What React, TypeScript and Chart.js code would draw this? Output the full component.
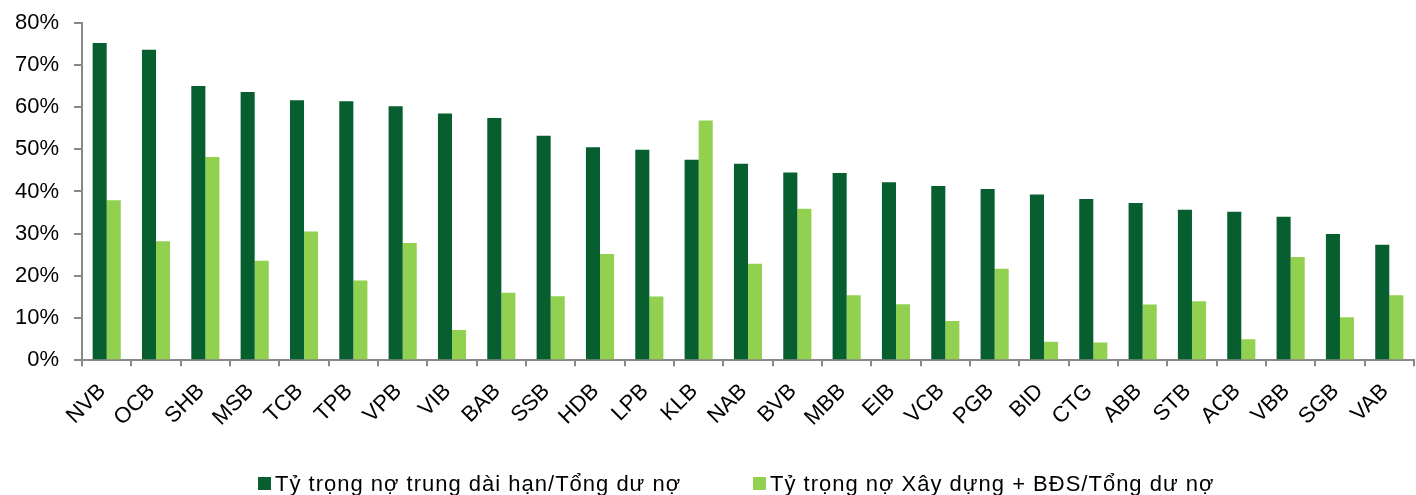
import React, { useEffect, useRef } from "react";
import { Chart, registerables } from "chart.js";

Chart.register(...registerables);

const banks = ["NVB","OCB","SHB","MSB","TCB","TPB","VPB","VIB","BAB","SSB","HDB","LPB","KLB","NAB","BVB","MBB","EIB","VCB","PGB","BID","CTG","ABB","STB","ACB","VBB","SGB","VAB"];
const longTermShare = [75.2,73.6,65.0,63.6,61.6,61.4,60.2,58.5,57.4,53.2,50.5,49.9,47.5,46.6,44.5,44.4,42.2,41.3,40.6,39.3,38.2,37.3,35.7,35.2,34.0,29.9,27.4];
const realEstateShare = [37.9,28.2,48.2,23.6,30.5,18.9,27.8,7.2,16.0,15.2,25.2,15.1,56.8,22.9,35.9,15.4,13.3,9.3,21.7,4.4,4.2,13.2,14.0,5.0,24.5,10.2,15.4];
const seriesNames = ["Tỷ trọng nợ trung dài hạn/Tổng dư nợ", "Tỷ trọng nợ Xây dựng + BĐS/Tổng dư nợ"];
const seriesColors = ["#075E2F", "#92D050"];
const yTicksMax = 80;
const yTickStep = 10;

const FONT = "'Liberation Sans', Arial, sans-serif";

export default function App() {
  const ref = useRef<HTMLCanvasElement | null>(null);
  useEffect(() => {
    if (!ref.current) return;
    const chart = new Chart(ref.current, {
      type: "bar",
      data: {
        labels: banks,
        datasets: [
          { label: seriesNames[0], data: longTermShare, backgroundColor: seriesColors[0], categoryPercentage: 0.57, barPercentage: 1.0 },
          { label: seriesNames[1], data: realEstateShare, backgroundColor: seriesColors[1], categoryPercentage: 0.57, barPercentage: 1.0 },
        ],
      },
      options: {
        animation: false,
        responsive: false,
        maintainAspectRatio: false,
        layout: { padding: { top: 0, left: 0, right: 2, bottom: 56 } },
        plugins: { legend: { display: false }, tooltip: { enabled: false } },
        scales: {
          x: {
            grid: { drawOnChartArea: false, drawTicks: true, tickLength: 6, color: "#888888", lineWidth: 2, offset: true },
            border: { color: "#888888", width: 2 },
            ticks: {
              color: "#000", font: { family: FONT, size: 22 }, maxRotation: 45, minRotation: 45, autoSkip: false, padding: 8,
              callback: (_v: any, i: number) => banks[i] + " ",
            },
          },
          y: {
            min: 0,
            max: yTicksMax,
            grid: { drawOnChartArea: false, drawTicks: true, tickLength: 8, color: "#888888", lineWidth: 2 },
            border: { color: "#888888", width: 2 },
            ticks: { stepSize: yTickStep, color: "#000", font: { family: FONT, size: 22, lineHeight: 0.7 }, padding: 15, callback: (v: any) => v + "%" },
          },
        },
      },
    });
    return () => chart.destroy();
  }, []);

  const legendText: React.CSSProperties = { fontFamily: FONT, fontSize: 22, color: "#000", letterSpacing: "1px", whiteSpace: "nowrap", lineHeight: "25px" };
  const box = (c: string): React.CSSProperties => ({ width: 13, height: 13, background: c, display: "inline-block", marginRight: 4, flex: "none" });

  return (
    <div style={{ position: "fixed", left: 0, top: 0, width: 1416, height: 495, overflow: "hidden", background: "#fff" }}>
      <canvas ref={ref} width={1416} height={495} style={{ position: "absolute", left: 0, top: 0, width: 1416, height: 495 }} />
      <div style={{ position: "absolute", left: 258, top: 471, display: "flex", alignItems: "center" }}>
        <span style={box(seriesColors[0])} />
        <span style={legendText}>{seriesNames[0]}</span>
      </div>
      <div style={{ position: "absolute", left: 753, top: 471, display: "flex", alignItems: "center" }}>
        <span style={box(seriesColors[1])} />
        <span style={legendText}>{seriesNames[1]}</span>
      </div>
    </div>
  );
}
